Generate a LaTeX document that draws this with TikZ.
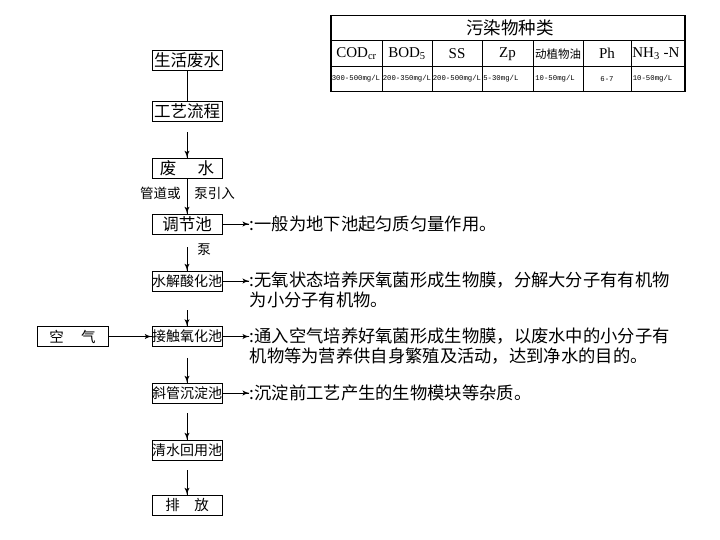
\documentclass[tikz,border=0pt]{standalone}
\usepackage{fontspec}
\usepackage{tikz}
\usetikzlibrary{arrows}
\usetikzlibrary{decorations.markings}
\usetikzlibrary{positioning}
\setmainfont{Liberation Serif}
\newfontfamily\cjk{Noto Sans CJK SC}
\newfontfamily\monof{Liberation Mono}
\tikzset{tip/.style = {decoration={markings,
                                  mark=at position 1 with {\arrow[scale=1.4]{latex'}}},
                      postaction={decorate}}}
\tikzset{pool/.style = {draw, line width=0.7pt, minimum width=70pt, minimum height=20pt,
                        inner sep=0pt, font={\cjk\fontsize{16.5}{18}\selectfont}},
         note/.style = {inner sep=0pt, align=left, font={\cjk\fontsize{17.3}{20}\selectfont}},
         small/.style = {inner sep=0pt, font={\cjk\fontsize{13.5}{15}\selectfont}},
         head/.style = {inner sep=0pt, font={\fontsize{15}{17}\selectfont}},
         val/.style = {inner sep=0pt, anchor=west, font={\monof\fontsize{7.3}{8}\selectfont}}}

\begin{document}
\begin{tikzpicture}[x=1pt, y=-1pt, line width=0.7pt]
    \useasboundingbox (0, 0) rectangle (720, 540);
    % process column
    \node [pool] (gy) at (187, 60.7) {生活废水};
    \node [pool] (lc) at (187, 111) {工艺流程};
    \node [pool] (fs) at (187, 168) {废\hspace{1.3em}水};
    \node [pool] (tj) at (187, 224) {调节池};
    \node [pool, font={\cjk\fontsize{14}{16}\selectfont}] (sj) at (187, 281) {水解酸化池};
    \node [pool, font={\cjk\fontsize{14}{16}\selectfont}] (jc) at (187, 336.5) {接触氧化池};
    \node [pool, font={\cjk\fontsize{14}{16}\selectfont}] (xg) at (187, 393) {斜管沉淀池};
    \node [pool, font={\cjk\fontsize{14}{16}\selectfont}] (qs) at (187, 450) {清水回用池};
    \node [pool, font={\cjk\fontsize{14.5}{16}\selectfont}] (pf) at (187, 505) {排\hspace{1em}放};
    \node [pool, minimum width=71pt, font={\cjk\fontsize{14.5}{16}\selectfont}] (kq) at (72.5, 336.5) {空\hspace{1.2em}气};

    \draw (gy.south) -- (lc.north);
    \draw [tip, shorten <=11pt] (lc.south) -- (fs.north);
    \draw [tip] (fs.south) -- (tj.north);
    \draw [tip, shorten <=13pt] (tj.south) -- (sj.north);
    \draw [tip, shorten <=19pt] (sj.south) -- (jc.north);
    \draw [tip, shorten <=11pt] (jc.south) -- (xg.north);
    \draw [tip, shorten <=10pt] (xg.south) -- (qs.north);
    \draw [tip, shorten <=10pt] (qs.south) -- (pf.north);
    \draw [tip] (kq.east) -- (jc.west);

    \node [small, anchor=east] (gd) at (181, 193) {管道或};
    \node [small, anchor=west] (by) at (194, 193) {泵引入};
    \node [small, anchor=west] (bp) at (197, 250) {泵};

    % notes
    \draw [tip] (tj.east) -- ++(27, 0) coordinate (tjend);
    \node [note, anchor=west] (tjnote) at (tjend) {:一般为地下池起匀质匀量作用。};
    \draw [tip] (sj.east) -- ++(27, 0) coordinate (sjend);
    \node [note, anchor=north west] (sjnote) at ([yshift=9.5pt]sjend)
        {:无氧状态培养厌氧菌形成生物膜，分解大分子有有机物\\为小分子有机物。};
    \draw [tip] (jc.east) -- ++(27, 0) coordinate (jcend);
    \node [note, anchor=north west] (jcnote) at ([yshift=9.5pt]jcend)
        {:通入空气培养好氧菌形成生物膜，以废水中的小分子有\\机物等为营养供自身繁殖及活动，达到净水的目的。};
    \draw [tip] (xg.east) -- ++(27, 0) coordinate (xgend);
    \node [note, anchor=west] (xgnote) at (xgend) {:沉淀前工艺产生的生物模块等杂质。};

    % table
    \draw [line width=1.2pt] (331, 15.7) rectangle (685, 91.7);
    \draw [line width=0.5pt] (331, 40.7) -- (685, 40.7);
    \draw [line width=0.5pt] (331, 66.7) -- (685, 66.7);
    \draw [line width=0.5pt] (382, 40.7) -- (382, 91.7);
    \draw [line width=0.5pt] (432, 40.7) -- (432, 91.7);
    \draw [line width=0.5pt] (482, 40.7) -- (482, 91.7);
    \draw [line width=0.5pt] (533, 40.7) -- (533, 91.7);
    \draw [line width=0.5pt] (583, 40.7) -- (583, 91.7);
    \draw [line width=0.5pt] (631, 40.7) -- (631, 91.7);
    \node [inner sep=0pt, font={\cjk\fontsize{17.5}{19}\selectfont}] (title) at (510, 28.2) {污染物种类};
    \node [head] (cod) at (356.5, 53.7) {COD\textsubscript{cr}};
    \node [head] (bod) at (407, 53.7) {BOD\textsubscript{5}};
    \node [head] (ss) at (457, 53.7) {SS};
    \node [head] (zp) at (507.5, 53.7) {Zp};
    \node [inner sep=0pt, font={\cjk\fontsize{11.5}{13}\selectfont}] (oil) at (558, 53.7) {动植物油};
    \node [head] (ph) at (607, 53.7) {Ph};
    \node [head, anchor=west] (nh) at (632, 53.7) {NH\textsubscript{3} -N};
    \node [val] (vcod) at (331.5, 79) {300-500mg/L};
    \node [val] (vbod) at (382.5, 79) {200-350mg/L};
    \node [val] (vss) at (432.5, 79) {200-500mg/L};
    \node [val] (vzp) at (483, 79) {5-30mg/L};
    \node [val] (voil) at (535, 79) {10-50mg/L};
    \node [val, anchor=center] (vph) at (607, 79) {6-7};
    \node [val] (vnh) at (632.5, 79) {10-50mg/L};
\end{tikzpicture}
\end{document}
